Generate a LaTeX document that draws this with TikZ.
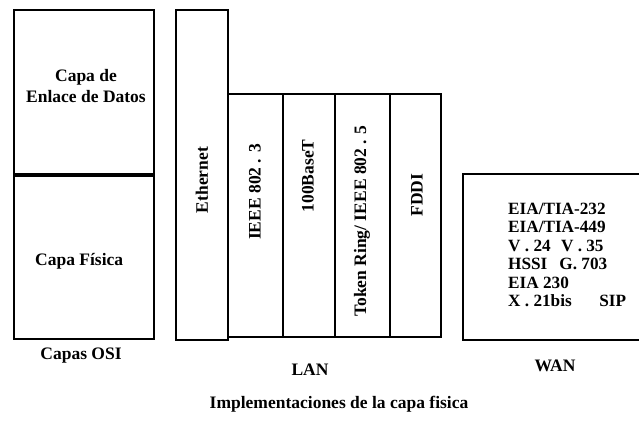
\documentclass[tikz,border=0pt]{standalone}
\usepackage{fontspec}
\setmainfont{Liberation Serif}
\begin{document}
\begin{tikzpicture}[x=1pt,y=-1pt,
  frame/.style={draw=black, line width=2pt},
  lbl/.style={font=\fontsize{17.5}{21}\selectfont\bfseries, inner sep=0pt},
  vlbl/.style={lbl, rotate=90},
  wan/.style={font=\fontsize{17.2}{18.4}\selectfont\bfseries, inner sep=0pt, align=left}]
\path[use as bounding box, clip] (0,0) rectangle (639,420);
\fill[white] (0,0) rectangle (639,420);
% OSI column
\draw[frame] (14,10) rectangle (154,339);
\draw[black, line width=3.2pt] (14,175) -- (154,175);
\node[lbl, align=center] (dll) at (86,86) {Capa de\\Enlace de Datos};
\node[lbl, anchor=west] (phy) at (35,261) {Capa Física};
\node[lbl] (osi) at (81,356) {Capas OSI};
% LAN column
\draw[frame] (176,10) rectangle (228,340);
\draw[frame] (228,94) rectangle (283,337);
\draw[frame] (283,94) rectangle (335,337);
\draw[frame] (335,94) rectangle (390,337);
\draw[frame] (390,94) rectangle (441,337);
\node[vlbl] (eth) at (202,180) {Ethernet};
\node[vlbl] (ieee) at (255,192) {IEEE 802 . 3};
\node[vlbl] (fast) at (308,176) {100BaseT};
\node[vlbl] (token) at (362,221) {Token Ring/ IEEE 802 . 5};
\node[vlbl] (fddi) at (417,195) {FDDI};
\node[lbl] (lan) at (310,370) {LAN};
% WAN column
\draw[frame] (463,174) rectangle (650,340);
\node[wan, anchor=base west] (wanlist) at (508,306.5) {EIA/TIA-232\\EIA/TIA-449\\V . 24\hspace{0.6em}V . 35\\HSSI\hspace{0.7em}G. 703\\EIA 230\\X . 21bis\hspace{1.6em}SIP};
\node[lbl] (wanlbl) at (555,366) {WAN};
% caption
\node[lbl] (cap) at (339,404) {Implementaciones de la capa fisica};
\end{tikzpicture}
\end{document}
